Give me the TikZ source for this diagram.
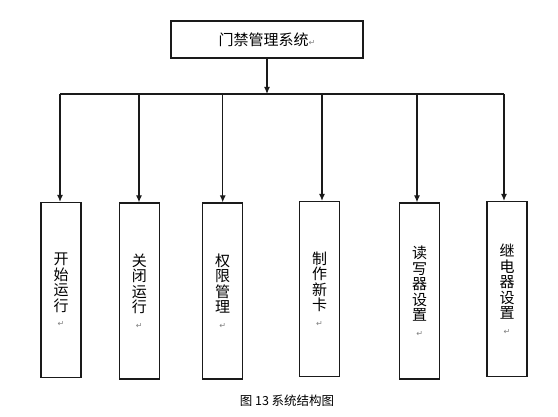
\documentclass[tikz,border=0pt]{standalone}
\usepackage{fontspec}
\setmainfont{Noto Sans CJK SC}
\newfontfamily\retfont{DejaVu Sans}
\definecolor{LINEcolor}{HTML}{1a1a1a}
\definecolor{RETcolor}{HTML}{7f7f7f}
\usetikzlibrary{arrows.meta}

\newcommand{\retmark}{{\retfont\fontsize{8}{8}\selectfont\textcolor{RETcolor}{↵}}}

\begin{document}
\begin{tikzpicture}[x=1pt, y=-1pt]

    \tikzset{%
        sysbox/.style={draw=LINEcolor, line width=1.2pt, minimum width=192pt, minimum height=37pt, inner sep=0pt, font=\fontsize{15}{15}\selectfont},
        leafbox/.style={draw=LINEcolor, line width=1.2pt, minimum width=40pt, inner sep=0pt, align=center, font=\fontsize{15}{15.5}\selectfont},
        link/.style={draw=LINEcolor, line width=1.2pt},
        arrowlink/.style={link, -{Latex[length=7pt, width=6pt]}},
    }

    \useasboundingbox (0, 0) rectangle (558, 417);

    \node [sysbox] (sys) at (267, 39.5) {门禁管理系统\retmark};
    \coordinate (bus) at (267, 94);
    \draw [arrowlink] (sys) -- (bus);

    \foreach \i/\xa/\xb/\yc/\h/\txt in {%
            1/60/61/290/175/开\\始\\运\\行,
            2/139/139.3/291/176/关\\闭\\运\\行,
            3/222.7/222.7/291/176/权\\限\\管\\理,
            4/322/319.5/289/175/制\\作\\新\\卡,
            5/417/419.7/291/176/读\\写\\器\\设\\置,
            6/504/507/289/175/继\\电\\器\\设\\置%
        } {%
            \node [leafbox, minimum height=\h pt] (leaf\i) at (\xb, \yc) {\txt\\\retmark};
            \coordinate (tap\i) at (\xa, 94);
            \draw [arrowlink] (tap\i) -- (tap\i |- leaf\i.north);
        }
    \draw [link] (tap1) -- (tap6);

    \node [font=\fontsize{12.5}{12.5}\selectfont] (caption) at (287, 401) {图 13 系统结构图};

\end{tikzpicture}
\end{document}
